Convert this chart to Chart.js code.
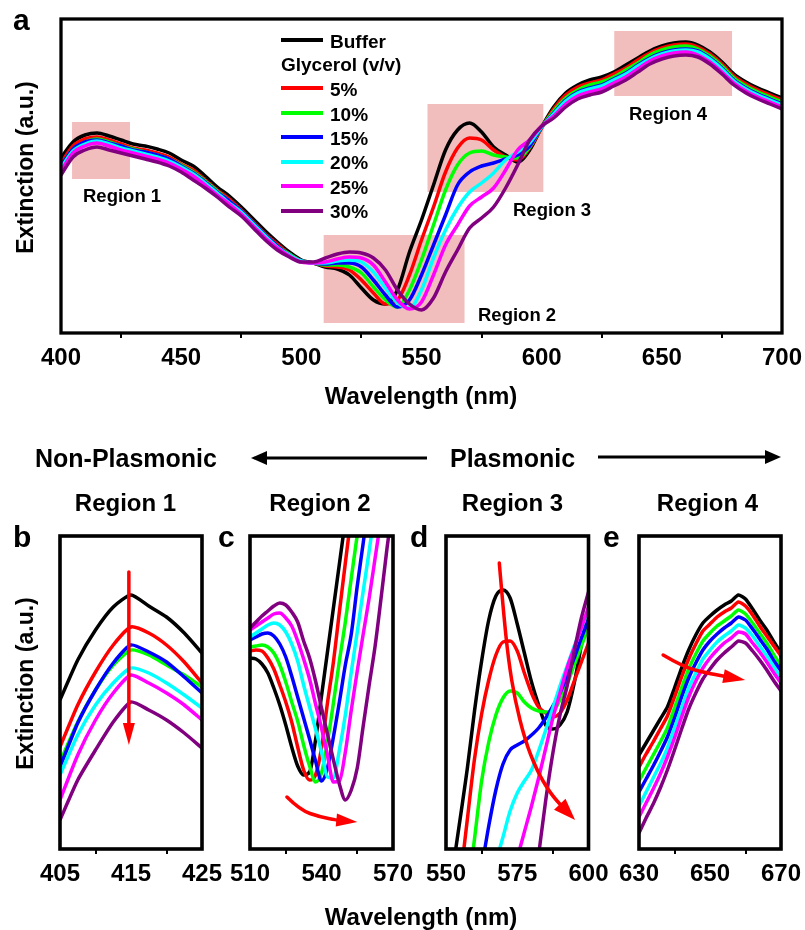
<!DOCTYPE html>
<html><head><meta charset="utf-8">
<script src="https://cdn.jsdelivr.net/npm/chart.js@4.4.1/dist/chart.umd.min.js"></script>
<style>
html,body{margin:0;padding:0;background:#fff;}
#wrap{position:relative;width:805px;height:930px;overflow:hidden;background:#fff;font-family:'Liberation Sans',Arial,Helvetica,sans-serif;font-weight:bold;color:#000;}
#wrap canvas{position:absolute;left:0;top:0;}
.t{position:absolute;white-space:nowrap;line-height:1;}
</style></head><body><div id="wrap"></div>
<script>
// ---------------- DATA ----------------
const SERIES_NAMES = ['Buffer','5%','10%','15%','20%','25%','30%'];
const LEGEND_HEADER = 'Glycerol (v/v)';

// Panel a: full spectrum (extinction, a.u.)
const wavelengthA = [400,405,410,415,420,425,430,435,440,445,450,455,460,465,470,475,480,485,490,495,500,
  505,510,515,520,525,530,535,540,545,550,555,560,565,570,575,580,585,590,595,600,
  605,610,615,620,625,630,635,640,645,650,655,660,665,670,675,680,685,690,695,700];
const a_buffer = [175,191,198,200,197,193,189,187,184,180,173,167,157,146,137,126,114,102,91,81,73,
  70,66,64,58,45,33,29,43,81,113,148,183,203,210,201,186,178,171,183,206,
  226,240,248,253,256,261,268,275,282,287,290,291,288,281,271,259,251,245,240,235];
const a_gly5 = [170,187,194,196,193,189,185,183,180,176,169,163,153,143,134,123,111,99,89,79,72,
  70,67,66,63,53,40,29,33,58,93,126,161,185,195,193,183,176,173,185,205,
  224,238,246,250,253,259,265,273,280,285,288,289,286,279,269,257,249,243,238,233];
const a_gly10 = [167,184,191,194,191,187,184,181,178,174,168,161,152,142,132,122,110,98,87,79,72,
  70,68,68,66,60,46,33,26,43,73,108,143,168,180,182,178,176,175,186,206,
  222,235,243,248,251,256,263,270,278,283,286,287,284,277,267,255,247,241,236,231];
const a_gly15 = [167,184,191,193,190,187,183,181,178,174,167,160,151,141,132,122,110,98,87,78,72,
  70,69,70,70,66,53,38,26,33,58,88,118,148,161,167,170,174,178,187,206,
  220,233,241,245,248,254,260,268,275,280,283,284,282,275,265,253,245,239,234,229];
const a_gly20 = [165,182,189,192,189,185,182,179,176,172,166,159,150,140,130,121,109,97,86,78,72,
  70,70,72,73,71,61,45,30,25,43,75,103,125,141,150,160,173,181,190,206,
  219,232,240,244,247,253,259,267,274,279,282,283,281,274,264,252,244,238,233,228];
const a_gly25 = [162,180,187,190,187,183,180,177,174,170,164,157,148,138,129,119,107,95,85,77,71,
  70,71,74,76,75,68,51,33,24,31,58,88,108,127,136,145,163,183,193,207,
  217,229,237,241,244,250,256,264,272,277,280,281,278,271,261,250,242,236,231,226];
const a_gly30 = [158,176,183,186,183,180,177,174,171,167,161,153,145,136,126,117,105,93,83,76,71,
  71,75,79,81,80,75,63,43,29,23,35,61,83,105,115,126,145,168,193,207,
  215,226,234,238,241,247,253,261,269,274,277,278,276,269,259,248,240,234,229,224];

// Panel b: Region 1
const wavelengthB = [405,407.5,410,412.5,415,417.5,420,422.5,425];
const b_buffer = [148,188,218,241,253,242,231,215,195];
const b_gly5  = [101,143,176,203,221,215,203,186,165];
const b_gly10 = [86,126,158,183,198,193,183,173,161];
const b_gly15 = [81,125,158,185,203,196,186,171,155];
const b_gly20 = [73,113,143,165,180,175,165,153,140];
const b_gly25 = [48,93,128,155,173,165,155,143,128];
const b_gly30 = [28,68,98,126,146,138,128,115,100];

// Panel c: Region 2
const wavelengthC = [510,512.5,515,517.5,520,522.5,525,527.5,530,532.5,535,537.5,540,542.5,545,547.5,550,552.5,555,557.5,560,562.5,565,567.5,570];
const c_buffer = [190,189,184,175,160,143,123,101,82,73,76,108,152,196,240,284,328,null,null,null,null,null,null,null,null];
const c_gly5  = [197,198,197,190,179,163,146,126,101,78,68,73,100,145,186,236,285,333,null,null,null,null,null,null,null];
const c_gly10 = [201,202,203,201,195,183,166,146,127,103,82,66,75,106,145,187,226,270,313,356,null,null,null,null,null];
const c_gly15 = [208,211,214,215,212,204,191,172,151,130,109,87,67,80,111,146,183,214,262,305,350,null,null,null,null];
const c_gly20 = [211,215,219,223,225,223,216,204,187,163,141,119,96,71,70,98,133,176,216,257,297,340,null,null,null];
const c_gly25 = [218,222,226,230,234,235,230,222,207,189,169,144,120,93,66,67,96,138,177,214,250,290,330,null,null];
const c_gly30 = [220,226,232,237,242,245,243,236,226,207,190,167,140,114,88,64,48,58,80,122,163,202,250,300,345];

// Panel d: Region 3
const wavelengthD = [550,552.5,555,557.5,560,562.5,565,567.5,570,572.5,575,577.5,580,582.5,585,587.5,590,592.5,595,597.5,600];
const d_buffer = [null,-19,30,80,137,187,228,252,258,250,224,195,166,143,123,119,123,136,165,203,240];
const d_gly5  = [null,null,-32,29,89,134,168,193,206,207,197,175,155,141,135,131,135,148,167,186,205];
const d_gly10 = [null,null,null,-48,9,67,106,133,150,157,155,146,140,137,136,137,148,164,183,202,221];
const d_gly15 = [null,null,null,null,null,-20,22,58,84,98,103,107,113,120,130,142,155,172,190,210,228];
const d_gly20 = [null,null,null,null,null,null,null,-14,11,37,55,67,78,97,118,140,162,182,202,220,238];
const d_gly25 = [null,null,null,null,null,null,null,null,null,null,-10,16,42,70,100,130,155,180,200,220,241];
const d_gly30 = [null,null,null,null,null,null,null,null,null,null,null,null,null,-7,48,95,133,162,197,230,256];

// Panel e: Region 4
const wavelengthE = [630,632,634,636,638,640,642,644,646,648,650,652,654,656,658,660,662,664,666,668,670];
const e_buffer = [93,105,117,129,141,160,180,198,213,225,232,238,243,247,253,249,239,228,218,206,195];
const e_gly5  = [81,94,106,119,132,151,171,189,204,217,224,231,236,240,246,242,233,222,212,202,192];
const e_gly10 = [67,80,93,106,120,140,160,179,194,207,215,222,227,232,238,234,225,215,205,193,182];
const e_gly15 = [56,69,82,96,111,130,151,170,185,198,207,214,220,225,231,228,219,209,199,187,177];
const e_gly20 = [42,56,70,84,100,120,140,160,175,189,198,206,212,217,223,220,212,202,192,181,170];
const e_gly25 = [31,45,59,74,91,110,131,151,167,180,190,198,205,210,216,214,205,196,186,175,165];
const e_gly30 = [15,30,44,60,78,98,119,139,155,169,179,188,195,201,207,205,197,188,178,167,157];

// Tick values (minor + major) and labelled ticks
const ticksA = [400,425,450,475,500,525,550,575,600,625,650,675,700];
const labelsA = [400,450,500,550,600,650,700];
const ticksB = [405,410,415,420,425];   const labelsB = [405,415,425];
const ticksC = [510,525,540,555,570];   const labelsC = [510,540,570];
const ticksD = [550,562.5,575,587.5,600]; const labelsD = [550,575,600];
const ticksE = [630,640,650,660,670];   const labelsE = [630,650,670];

// Highlighted regions in panel a (wavelength range, extinction range)
const regionNames = ['Region 1','Region 2','Region 3','Region 4'];
const regionX = [[404.6,428.7],[509.3,567.9],[552.5,600.7],[630.2,679.2]];
const regionY = [[154,211],[10,98],[141,229],[237,302]];

// ---------------- STYLE ----------------
const SERIES_COLORS = ['#000000','#FF0000','#00FF00','#0000FF','#00FFFF','#FF00FF','#800080'];
const FONT = "'Liberation Sans', Arial, Helvetica, sans-serif";
const AXH = 40;
const wrap = document.getElementById('wrap');

const framePlugin = {
  id:'frame',
  afterDatasetsDraw(chart, args, opts){
    const a = chart.chartArea, ctx = chart.ctx;
    ctx.save(); ctx.strokeStyle='#000'; ctx.lineWidth=opts.lw||3;
    ctx.strokeRect(a.left, a.top, a.right-a.left, a.bottom-a.top);
    ctx.restore();
  }
};
const boxPlugin = {
  id:'boxes',
  beforeDatasetsDraw(chart, args, opts){
    const list = opts.list||[]; if(!list.length) return;
    const {ctx, scales:{x,y}} = chart;
    ctx.save(); ctx.fillStyle = '#F2BDBD';
    list.forEach(b=>{
      const x1=x.getPixelForValue(b.x[0]), x2=x.getPixelForValue(b.x[1]);
      const y1=y.getPixelForValue(b.y[1]), y2=y.getPixelForValue(b.y[0]);
      ctx.fillRect(x1,y1,x2-x1,y2-y1);
    });
    ctx.restore();
  }
};
const arrowPlugin = {
  id:'redArrows',
  afterDatasetsDraw(chart, args, opts){
    const list = opts.list||[]; if(!list.length) return;
    const {ctx, scales:{x,y}} = chart;
    list.forEach(a=>{
      const p = a.pts.map(([u,v])=>[x.getPixelForValue(u), y.getPixelForValue(v)]);
      const n = p.length;
      const tip = p[n-1], prev = p[n-2];
      const ang = Math.atan2(tip[1]-prev[1], tip[0]-prev[0]);
      const base = [tip[0]-a.len*Math.cos(ang), tip[1]-a.len*Math.sin(ang)];
      const q = p.slice(0,n-1).concat([base]);
      ctx.save(); ctx.strokeStyle='#FF0000'; ctx.fillStyle='#FF0000';
      ctx.lineWidth=a.w; ctx.lineCap='round'; ctx.lineJoin='round';
      ctx.beginPath(); ctx.moveTo(q[0][0],q[0][1]);
      for(let i=1;i<q.length-1;i++){
        const mx=(q[i][0]+q[i+1][0])/2, my=(q[i][1]+q[i+1][1])/2;
        ctx.quadraticCurveTo(q[i][0],q[i][1],mx,my);
      }
      ctx.lineTo(base[0]+2*Math.cos(ang), base[1]+2*Math.sin(ang));
      ctx.stroke();
      const px=-Math.sin(ang), py=Math.cos(ang);
      ctx.beginPath();
      ctx.moveTo(tip[0],tip[1]);
      ctx.lineTo(base[0]+px*a.half, base[1]+py*a.half);
      ctx.lineTo(base[0]-px*a.half, base[1]-py*a.half);
      ctx.closePath(); ctx.fill();
      ctx.restore();
    });
  }
};

function makeChart(cfg){
  const c = document.createElement('canvas');
  c.width=805; c.height=930; c.style.width='805px'; c.style.height='930px';
  wrap.appendChild(c);
  const datasets = cfg.series.map((s,i)=>({
    label: SERIES_NAMES[i],
    data: cfg.wl.map((w,j)=>({x:w, y:s[j]})),
    borderColor: SERIES_COLORS[i], backgroundColor: SERIES_COLORS[i],
    borderWidth: cfg.lw, pointRadius:0, fill:false,
    tension: cfg.tension, cubicInterpolationMode: cfg.mono ? 'monotone' : 'default',
    order: cfg.series.length-1-i, spanGaps:false
  }));
  return new Chart(c, {
    type:'line',
    data:{datasets},
    options:{
      responsive:false, animation:false, devicePixelRatio:1, events:[],
      layout:{padding:{left:cfg.L, top:cfg.T, right:805-cfg.R, bottom:930-cfg.B-AXH}},
      plugins:{legend:{display:false}, tooltip:{enabled:false},
        frame:{lw:cfg.frameW}, boxes:{list:cfg.boxes||[]}, redArrows:{list:cfg.arrows||[]}},
      scales:{
        x:{type:'linear', min:cfg.xmin, max:cfg.xmax,
          afterFit(s){ s.height = AXH; s.paddingLeft = 0; s.paddingRight = 0; },
          afterBuildTicks(s){ s.ticks = cfg.ticks.map(v=>({value:v})); },
          grid:{display:true, drawOnChartArea:false, drawTicks:true, tickLength:5, lineWidth:2,
            color:(ctx)=> (ctx.tick && cfg.labels.includes(ctx.tick.value)) ? 'rgba(0,0,0,0)' : '#000'},
          border:{display:false},
          ticks:{font:{family:FONT, size:24, weight:'bold'}, color:'#000', padding:cfg.tickPad,
            maxRotation:0, minRotation:0, autoSkip:false,
            callback:(v)=> cfg.labels.includes(v) ? String(v) : ''}
        },
        y:{display:false, min:cfg.ymin, max:cfg.ymax}
      }
    },
    plugins:[boxPlugin, framePlugin, arrowPlugin]
  });
}

// Panel a
makeChart({wl:wavelengthA, series:[a_buffer,a_gly5,a_gly10,a_gly15,a_gly20,a_gly25,a_gly30],
  L:61, T:19, R:782, B:333, xmin:400, xmax:700, ymin:0, ymax:314, lw:3.5, frameW:3.3, tickPad:6,
  tension:0, mono:true, ticks:ticksA, labels:labelsA,
  boxes: regionX.map((r,i)=>({x:r, y:regionY[i]}))});
// Panel b
makeChart({wl:wavelengthB, series:[b_buffer,b_gly5,b_gly10,b_gly15,b_gly20,b_gly25,b_gly30],
  L:60, T:536, R:202, B:849, xmin:405, xmax:425, ymin:-1, ymax:312, lw:3.5, frameW:3.6, tickPad:6,
  tension:0.2, mono:false, ticks:ticksB, labels:labelsB,
  arrows:[{pts:[[414.7,276],[414.7,103]], len:22, half:6, w:3.5}]});
// Panel c
makeChart({wl:wavelengthC, series:[c_buffer,c_gly5,c_gly10,c_gly15,c_gly20,c_gly25,c_gly30],
  L:250, T:536, R:393, B:849, xmin:510, xmax:570, ymin:-1, ymax:312, lw:3.5, frameW:3.6, tickPad:6,
  tension:0, mono:true, ticks:ticksC, labels:labelsC,
  arrows:[{pts:[[525.5,51],[531,38],[539.4,31],[546.5,28],[555,26]], len:21, half:6.5, w:3.5}]});
// Panel d
makeChart({wl:wavelengthD, series:[d_buffer,d_gly5,d_gly10,d_gly15,d_gly20,d_gly25,d_gly30],
  L:446, T:536, R:588.5, B:849, xmin:550, xmax:600, ymin:-1, ymax:312, lw:3.5, frameW:3.6, tickPad:6,
  tension:0, mono:true, ticks:ticksD, labels:labelsD,
  arrows:[{pts:[[568.7,285],[570.1,238],[571.9,188],[574.2,148],[577.7,108],[581.8,78],[586.5,55],[591.2,40],[595.3,28]], len:22, half:8, w:3.5}]});
// Panel e
makeChart({wl:wavelengthE, series:[e_buffer,e_gly5,e_gly10,e_gly15,e_gly20,e_gly25,e_gly30],
  L:639, T:536, R:781, B:849, xmin:630, xmax:670, ymin:-1, ymax:312, lw:3.5, frameW:3.6, tickPad:6,
  tension:0.2, mono:false, ticks:ticksE, labels:labelsE,
  arrows:[{pts:[[636.8,193],[642.5,181],[649.1,175],[659.9,168]], len:22, half:7, w:3.5}]});

// ---------------- TEXT OVERLAY ----------------
function addText(txt, x, baseY, size, align){
  const d=document.createElement('div'); d.className='t'; d.textContent=txt; d.style.fontSize=size+'px';
  wrap.appendChild(d);
  const w=d.getBoundingClientRect().width;
  const left = align==='center' ? x-w/2 : (align==='right' ? x-w : x);
  d.style.left=left+'px'; d.style.top=(baseY-0.8465*size)+'px';
  return d;
}
function addVText(txt, cx, cy, size){
  const d=document.createElement('div'); d.className='t'; d.textContent=txt; d.style.fontSize=size+'px';
  wrap.appendChild(d);
  const w=d.getBoundingClientRect().width;
  d.style.left=(cx-w/2)+'px'; d.style.top=(cy-size/2)+'px';
  d.style.transform='rotate(-90deg)'; d.style.transformOrigin='50% 50%';
}
function addLine(x, y, w, h, color){
  const d=document.createElement('div'); d.style.position='absolute';
  d.style.left=x+'px'; d.style.top=y+'px'; d.style.width=w+'px'; d.style.height=h+'px'; d.style.background=color;
  wrap.appendChild(d);
}

// panel a texts
addText('a', 13, 30, 30, 'left');
addVText('Extinction (a.u.)', 25, 167, 23);
addText('Wavelength (nm)', 421, 404, 24, 'center');
// legend
const legendLineY = [40, 88, 113, 137, 162, 186, 211];
const legendBase = [48, 96, 121, 145, 169, 194, 218];
SERIES_NAMES.forEach((nm,i)=>{
  addLine(281, legendLineY[i]-2, 42, 4, SERIES_COLORS[i]);
  addText(nm, 330, legendBase[i], 19, 'left');
});
addText(LEGEND_HEADER, 281, 71, 19, 'left');
// region labels
const regionLabelPos = [[83,203],[478,322],[513,217],[629,121]];
regionNames.forEach((nm,i)=> addText(nm, regionLabelPos[i][0], regionLabelPos[i][1], 18.5, 'left'));

// bottom texts
addText('Non-Plasmonic', 35, 467, 25, 'left');
addText('Plasmonic', 450, 467, 25, 'left');
const titleCx = [125.5, 320, 512.5, 707.5];
regionNames.forEach((nm,i)=> addText(nm, titleCx[i], 511, 24, 'center'));
addText('b', 13, 547, 30, 'left');
addText('c', 218, 547, 30, 'left');
addText('d', 410, 547, 30, 'left');
addText('e', 603, 547, 30, 'left');
addVText('Extinction (a.u.)', 25, 683, 23);
addText('Wavelength (nm)', 421, 925, 24, 'center');

// plasmonic direction arrows
const svgNS='http://www.w3.org/2000/svg';
const svg=document.createElementNS(svgNS,'svg');
svg.setAttribute('width','805'); svg.setAttribute('height','930');
svg.style.position='absolute'; svg.style.left='0'; svg.style.top='0';
svg.innerHTML = '<line x1="427" y1="458" x2="264" y2="458" stroke="#000" stroke-width="3"/>'+
  '<polygon points="251,458 267,451 267,465" fill="#000"/>'+
  '<line x1="598" y1="457" x2="768" y2="457" stroke="#000" stroke-width="3"/>'+
  '<polygon points="781,457 765,450 765,464" fill="#000"/>';
wrap.appendChild(svg);
</script></body></html>
